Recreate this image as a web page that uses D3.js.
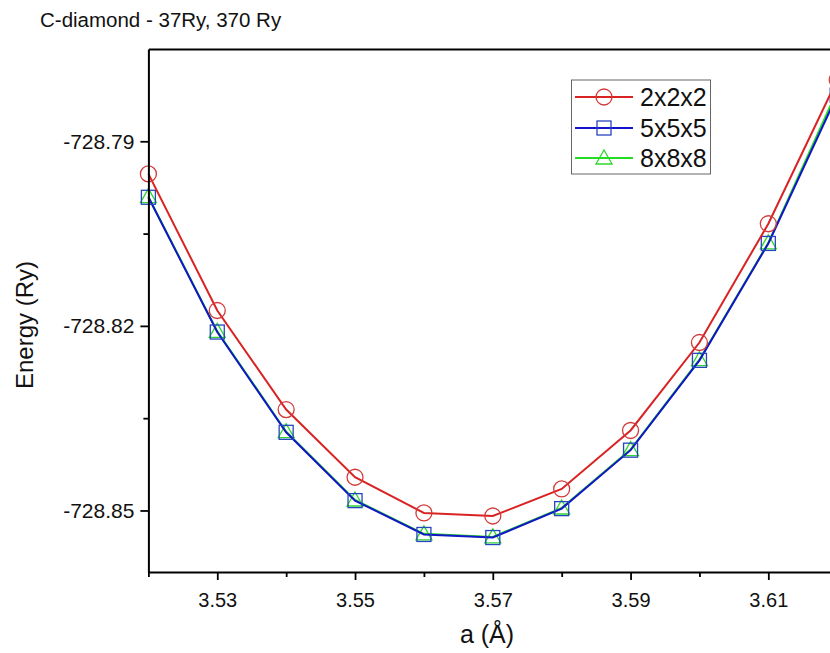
<!DOCTYPE html>
<html>
<head>
<meta charset="utf-8">
<script src="https://cdn.jsdelivr.net/npm/d3@7"></script>
<style>
  body { margin: 0; background: #fff; }
  text { font-family: "Liberation Sans", Arial, sans-serif; fill: #111; }
</style>
</head>
<body>
<div id="viz"></div>
<script>
// Setting up constant variables
const F_HEIGHT = 653;
const F_WIDTH = 830;
const PLOT = {left: 148.4, right: 837.2, top: 49, bottom: 572};

// data
const LATTICE = [3.52, 3.53, 3.54, 3.55, 3.56, 3.57, 3.58, 3.59, 3.60, 3.61, 3.62];
const K2 = [-728.7953, -728.8175, -728.8336, -728.8446, -728.8504, -728.8509, -728.8465, -728.8370, -728.8227, -728.8034, -728.7800];
const K5 = [-728.7991, -728.8210, -728.8373, -728.8484, -728.8539, -728.8544, -728.8497, -728.8402, -728.8256, -728.8066, -728.7825];
const K8 = [-728.7990, -728.8209, -728.8372, -728.8483, -728.8538, -728.8543, -728.8496, -728.8401, -728.8255, -728.8065, -728.7818];
const SERIES_NAMES = ["2x2x2", "5x5x5", "8x8x8"];
const X_TICKS = [3.53, 3.55, 3.57, 3.59, 3.61];
const X_MINOR = [3.52, 3.54, 3.56, 3.58, 3.60];
const Y_TICKS = [-728.79, -728.82, -728.85];
const Y_MINOR = [-728.805, -728.835];

const STYLES = [
  {line: "#d92323", mark: "#d43a3a", shape: "circle"},
  {line: "#1414c8", mark: "#2546c0", shape: "square"},
  {line: "#22dd22", mark: "#2ed62e", shape: "triangle"}
];

const FRAME = d3.select("#viz")
  .append("svg")
    .attr("height", F_HEIGHT)
    .attr("width", F_WIDTH)
    .attr("class", "frame");

const X_SCALE = d3.scaleLinear()
  .domain([3.52, 3.62])
  .range([PLOT.left, PLOT.right]);

const Y_SCALE = d3.scaleLinear()
  .domain([-728.86, -728.775])
  .range([PLOT.bottom, PLOT.top]);

// title
FRAME.append("text")
  .attr("x", 40)
  .attr("y", 27)
  .attr("font-size", 20.5)
  .text("C-diamond - 37Ry, 370 Ry");

// markers
function drawMark(g, shape, x, y, color) {
  if (shape === "circle") {
    g.append("circle").attr("cx", x).attr("cy", y).attr("r", 8)
      .attr("fill", "none").attr("stroke", color).attr("stroke-width", 1.3);
  } else if (shape === "square") {
    g.append("rect").attr("x", x - 7).attr("y", y - 7).attr("width", 14).attr("height", 14)
      .attr("fill", "none").attr("stroke", color).attr("stroke-width", 1.3);
  } else {
    g.append("path")
      .attr("d", `M${x},${y - 8}L${x + 8},${y + 6}L${x - 8},${y + 6}Z`)
      .attr("fill", "none").attr("stroke", color).attr("stroke-width", 1.3);
  }
}

const line = d3.line()
  .x((d) => X_SCALE(d[0]))
  .y((d) => Y_SCALE(d[1]));

const ALL = [K8, K5, K2];
const ORDER = [2, 1, 0];

ALL.forEach((vals, j) => {
  const s = STYLES[ORDER[j]];
  const pts = LATTICE.map((x, i) => [x, vals[i]]);
  const g = FRAME.append("g");
  g.append("path")
    .datum(pts)
    .attr("d", line)
    .attr("fill", "none")
    .attr("stroke", s.line)
    .attr("stroke-width", 2);
  pts.forEach((p) => drawMark(g, s.shape, X_SCALE(p[0]), Y_SCALE(p[1]), s.mark));
});

// axes
FRAME.append("g")
  .attr("transform", "translate(0," + PLOT.bottom + ")")
  .call(d3.axisBottom(X_SCALE).tickValues(X_TICKS).tickSize(8).tickSizeOuter(0)
        .tickFormat((d) => d.toFixed(2)))
  .call((g) => g.select(".domain").attr("stroke-width", 2))
  .call((g) => g.selectAll(".tick line").attr("stroke-width", 1.8))
  .call((g) => g.selectAll(".tick text").attr("font-size", 20).attr("dy", "1.2em")
        .attr("font-family", "Liberation Sans, Arial, sans-serif").attr("fill", "#111"));

FRAME.append("g")
  .attr("transform", "translate(0," + PLOT.bottom + ")")
  .call(d3.axisBottom(X_SCALE).tickValues(X_MINOR).tickSize(5).tickFormat(""))
  .call((g) => g.select(".domain").remove())
  .call((g) => g.selectAll(".tick line").attr("stroke-width", 1.8));

FRAME.append("g")
  .attr("transform", "translate(" + PLOT.left + ",0)")
  .call(d3.axisLeft(Y_SCALE).tickValues(Y_TICKS).tickSize(8).tickSizeOuter(0)
        .tickFormat((d) => d.toFixed(2)))
  .call((g) => g.select(".domain").attr("stroke-width", 2))
  .call((g) => g.selectAll(".tick line").attr("stroke-width", 1.8))
  .call((g) => g.selectAll(".tick text").attr("font-size", 21).attr("x", -14)
        .attr("font-family", "Liberation Sans, Arial, sans-serif").attr("fill", "#111"));

FRAME.append("g")
  .attr("transform", "translate(" + PLOT.left + ",0)")
  .call(d3.axisLeft(Y_SCALE).tickValues(Y_MINOR).tickSize(5).tickFormat(""))
  .call((g) => g.select(".domain").remove())
  .call((g) => g.selectAll(".tick line").attr("stroke-width", 1.8));

// top frame line
FRAME.append("g")
  .attr("transform", "translate(0," + PLOT.top + ")")
  .call(d3.axisTop(X_SCALE).tickValues([]).tickSizeOuter(0))
  .call((g) => g.select(".domain").attr("stroke-width", 2));

// axis labels
FRAME.append("text")
  .attr("x", 487)
  .attr("y", 643)
  .attr("text-anchor", "middle")
  .attr("font-size", 25)
  .text("a (Å)");

FRAME.append("text")
  .attr("transform", "translate(33," + 325 + ") rotate(-90)")
  .attr("text-anchor", "middle")
  .attr("font-size", 24)
  .text("Energy (Ry)");

// legend
const LEG = FRAME.append("g");
LEG.append("rect")
  .attr("x", 571.5).attr("y", 80).attr("width", 139).attr("height", 94)
  .attr("fill", "#fff").attr("stroke", "#666").attr("stroke-width", 1);

const LEG_Y = [97, 128, 158];
SERIES_NAMES.forEach((name, i) => {
  const s = STYLES[i];
  LEG.append("line")
    .attr("x1", 575).attr("x2", 633).attr("y1", LEG_Y[i]).attr("y2", LEG_Y[i])
    .attr("stroke", s.line).attr("stroke-width", 2);
  drawMark(LEG, s.shape, 604, LEG_Y[i], s.mark);
  LEG.append("text")
    .attr("x", 640).attr("y", LEG_Y[i])
    .attr("dy", "0.36em")
    .attr("font-size", 25)
    .text(name);
});
</script>
</body>
</html>
